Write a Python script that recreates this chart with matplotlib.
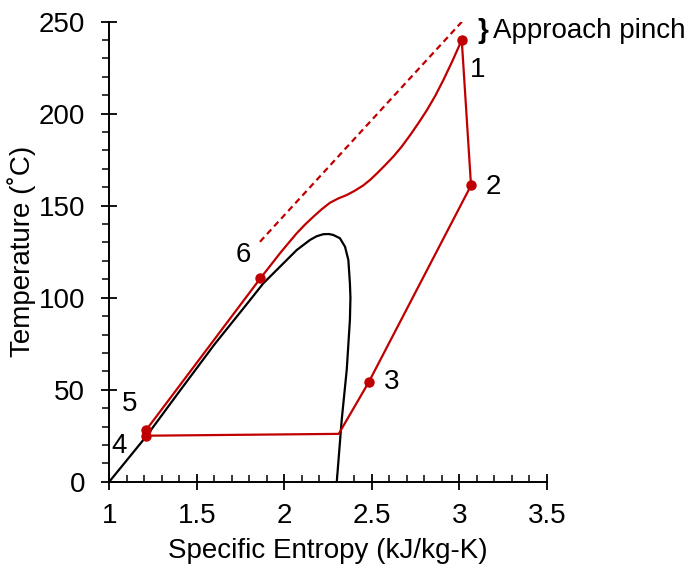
import matplotlib
matplotlib.use("Agg")
import matplotlib.pyplot as plt
from matplotlib.ticker import MultipleLocator

plt.rcParams['font.family'] = ['Liberation Sans', 'DejaVu Sans']

# saturation dome
dome_s = [1.0, 1.21, 1.40, 1.60, 1.805, 1.88, 1.975, 2.071, 2.147, 2.185, 2.223, 2.255,
          2.28, 2.318, 2.347, 2.366, 2.375, 2.378, 2.375, 2.357, 2.328, 2.30]
dome_T = [0, 24.5, 49, 74.5, 98.8, 107.8, 116.8, 125.9, 131.4, 133.4, 134.5, 134.6,
          134.1, 132.3, 127.7, 120.5, 107.8, 100, 88, 61, 33.5, 0]

# cycle state points
state_labels = ['1', '2', '3', '4', '5', '6']
state_s = [3.014, 3.067, 2.482, 1.21, 1.21, 1.863]
state_T = [240, 161, 54, 25, 28, 110.5]

# cycle path: 4 -> condensation start -> 3 -> 2 -> 1, then heating curve 1 -> 6 -> 5 -> 4
cycle_s = [1.21, 2.311, 2.482, 3.067, 3.014, 2.96, 2.909, 2.862, 2.814, 2.766, 2.718,
           2.67, 2.623, 2.575, 2.528, 2.49, 2.451, 2.404, 2.357, 2.31, 2.261, 2.213,
           2.166, 2.118, 2.071, 2.023, 1.975, 1.92, 1.863, 1.21, 1.21]
cycle_T = [25, 26, 54, 161, 240, 228.5, 218.3, 209.6, 201.8, 194.8, 188.2,
           182.0, 176.7, 171.9, 167.4, 164.0, 161.0, 158.2, 155.8, 154.0, 151.6, 148,
           144, 139.7, 135, 129.6, 124.1, 117.4, 110.5, 28, 25]

# heat source line (approach pinch)
source_s = [1.861, 3.02]
source_T = [130.4, 250.5]

red = '#C00000'
fs = 20

fig = plt.figure(figsize=(6.97, 5.69), dpi=100)
ax = fig.add_axes([0.1568, 0.1534, 0.6277, 0.8085])

ax.plot(dome_s, dome_T, color='black', linewidth=1.6, solid_joinstyle='round')
ax.plot(cycle_s, cycle_T, color=red, linewidth=1.6, solid_joinstyle='round')
ax.plot(source_s, source_T, color=red, linewidth=1.6, linestyle=(0, (2.8, 1.9)))
ax.plot(state_s, state_T, 'o', color=red, markersize=6.5)

ax.text(3.107, 224, '1', fontsize=fs, ha='center', va='center')
ax.text(3.192, 160, '2', fontsize=fs, ha='center', va='center')
ax.text(2.615, 54, '3', fontsize=fs, ha='center', va='center')
ax.text(1.055, 19.5, '4', fontsize=fs, ha='center', va='center')
ax.text(1.118, 42, '5', fontsize=fs, ha='center', va='center')
ax.text(1.765, 123, '6', fontsize=fs, ha='center', va='center')
ax.text(3.135, 245, '}', fontsize=fs, fontweight='bold', ha='center', va='center', clip_on=False)
ax.text(3.19, 245, 'Approach pinch', fontsize=fs, ha='left', va='center', clip_on=False)

ax.set_xlim(1, 3.5)
ax.set_ylim(0, 250)
ax.xaxis.set_major_locator(MultipleLocator(0.5))
ax.xaxis.set_minor_locator(MultipleLocator(0.1))
ax.yaxis.set_major_locator(MultipleLocator(50))
ax.yaxis.set_minor_locator(MultipleLocator(10))
ax.set_xticks([1, 1.5, 2, 2.5, 3, 3.5])
ax.set_xticklabels(['1', '1.5', '2', '2.5', '3', '3.5'])

ax.tick_params(axis='both', which='major', direction='inout', length=11, width=1.3,
               labelsize=fs)
ax.tick_params(axis='x', which='major', pad=10)
ax.tick_params(axis='y', which='major', pad=12)
ax.tick_params(axis='x', which='minor', direction='in', length=5, width=1.1)
ax.tick_params(axis='y', which='minor', direction='out', length=5, width=1.1)

for side in ['top', 'right']:
    ax.spines[side].set_visible(False)
for side in ['left', 'bottom']:
    ax.spines[side].set_linewidth(1.4)

ax.set_xlabel('Specific Entropy (kJ/kg-K)', fontsize=fs, labelpad=6)
ax.set_ylabel('Temperature (˚C)', fontsize=fs, labelpad=2)

fig.savefig('out.png', dpi=100)
